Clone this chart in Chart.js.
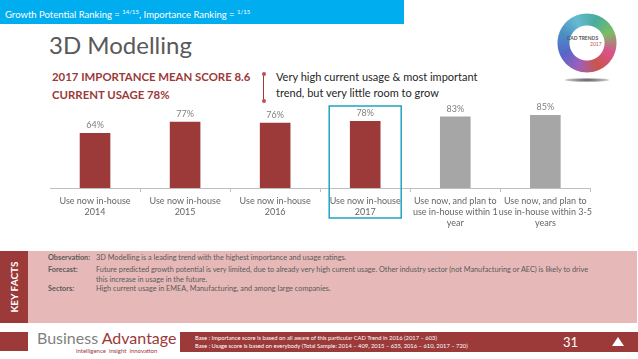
<!DOCTYPE html>
<html>
<head>
<meta charset="utf-8">
<script src="https://cdn.jsdelivr.net/npm/chart.js@4.4.1/dist/chart.umd.min.js"></script>
<style>
  html, body { margin: 0; padding: 0; }
  body { width: 638px; height: 359px; position: relative; overflow: hidden; background: #fff; font-family: Lato, "Open Sans", sans-serif; }
  .abs { position: absolute; }
  #topbar { left: 0; top: 0; width: 404px; height: 24px; background: #00adef; color: #fff; font-size: 9.5px; line-height: 24px; padding-left: 5px; box-sizing: border-box; white-space: nowrap; }
  #topbar sup { font-size: 6px; }
  #title { left: 49px; top: 30px; font-size: 24px; color: #595959; }
  .head { left: 52px; font-weight: bold; font-size: 11.4px; color: #9b3a39; white-space: nowrap; }
  .note { left: 276px; font-size: 11px; color: #262626; white-space: nowrap; }
  #conn { left: 263px; top: 74px; width: 1px; height: 27px; background: #9b3a39; }
  .dot { width: 4px; height: 4px; border-radius: 50%; background: #c0504d; left: 261.5px; }
  #chartbox { left: 50px; top: 100px; width: 546px; height: 130px; }
  #facts { left: 28px; top: 251px; width: 609px; height: 72px; background: #e6b9b8; }
  #factsside { left: 0; top: 251px; width: 28px; height: 72px; background: #9b3a39; }
  #factslabel { left: 14px; top: 287px; transform: translate(-50%, -50%) rotate(-90deg); color: #fff; font-weight: bold; font-size: 10px; white-space: nowrap; }
  .fl { left: 48px; font-size: 7.3px; font-weight: bold; color: #595959; }
  .ft { left: 96px; font-size: 7.3px; color: #595959; white-space: nowrap; }
  #footleft { left: 0; top: 332px; width: 28px; height: 19px; background: #9b3a39; }
  #footbar { left: 180px; top: 332px; width: 458px; height: 20px; background: #9b3a39; }
  .base { left: 195px; font-size: 5.8px; color: #fff; white-space: nowrap; }
  #page { left: 563px; top: 334px; font-size: 13px; color: #fff; }
  #tri { left: 612px; top: 337px; width: 0; height: 0; border-left: 6px solid transparent; border-right: 6px solid transparent; border-bottom: 9px solid #fff; }
  #brand { left: 37px; top: 328px; font-size: 16px; white-space: nowrap; }
  #tag { left: 76px; top: 347px; font-size: 6px; color: #9b3a39; white-space: nowrap; }
  #ring { left: 555px; top: 13px; width: 64px; height: 60px; border-radius: 50%;
    background: conic-gradient(from 20deg, #2a9d8f, #63b34a, #d4357a, #c0392b, #8e44ad, #3b4cc0, #2b7bb9, #4ab0c8, #2a9d8f);
    -webkit-mask: radial-gradient(circle, transparent 17px, #000 18px, #000 29px, transparent 30px);
    mask: radial-gradient(circle, transparent 17px, #000 18px, #000 29px, transparent 30px); opacity: 0.85; }
  #cadtxt { left: 567px; top: 35px; font-size: 5px; font-weight: bold; color: #555; white-space: nowrap; }
  #cadyr { left: 590px; top: 41px; font-size: 5px; color: #c0504d; }
  #shadow { left: 565px; top: 78px; width: 44px; height: 4px; border-radius: 50%; background: radial-gradient(ellipse, #555, rgba(255,255,255,0)); }
</style>
</head>
<body>
<div id="topbar" class="abs">Growth Potential Ranking = <sup>14/15</sup>, Importance Ranking = <sup>1/15</sup></div>
<div id="ring" class="abs"></div>
<div id="cadtxt" class="abs">CAD TRENDS</div>
<div id="cadyr" class="abs">2017</div>
<div id="shadow" class="abs"></div>
<div id="title" class="abs">3D Modelling</div>
<div class="abs head" style="top:70px">2017 IMPORTANCE MEAN SCORE 8.6</div>
<div class="abs head" style="top:88px">CURRENT USAGE 78%</div>
<div id="conn" class="abs"></div>
<div class="abs dot" style="top:72px"></div>
<div class="abs dot" style="top:99px"></div>
<div class="abs note" style="top:70px">Very high current usage &amp; most important</div>
<div class="abs note" style="top:86px">trend, but very little room to grow</div>
<div id="chartbox" class="abs"><canvas id="chart"></canvas></div>

<div id="factsside" class="abs"></div>
<div id="facts" class="abs"></div>
<div id="factslabel" class="abs">KEY FACTS</div>
<div class="abs fl" style="top:253px">Observation:</div>
<div class="abs ft" style="top:253px">3D Modelling is a leading trend with the highest importance and usage ratings.</div>
<div class="abs fl" style="top:265px">Forecast:</div>
<div class="abs ft" style="top:265px">Future predicted growth potential is very limited, due to already very high current usage. Other industry sector (not Manufacturing or AEC) is likely to drive</div>
<div class="abs ft" style="top:275px">this increase in usage in the future.</div>
<div class="abs fl" style="top:284px">Sectors:</div>
<div class="abs ft" style="top:284px">High current usage in EMEA, Manufacturing, and among large companies.</div>

<div id="footleft" class="abs"></div>
<div id="brand" class="abs"><span style="color:#7f7f7f">Business</span> <span style="color:#9b3a39">Advantage</span></div>
<div id="tag" class="abs">intelligence &nbsp;insight &nbsp;innovation</div>
<div id="footbar" class="abs"></div>
<div class="abs base" style="top:334px">Base : Importance score is based on all aware of this particular CAD Trend in 2016 (2017 – 603)</div>
<div class="abs base" style="top:342px">Base : Usage score is based on everybody (Total Sample: 2014 – 409, 2015 – 635, 2016 – 610, 2017 – 720)</div>
<div id="page" class="abs">31</div>
<div id="tri" class="abs"></div>

<script>
const categories = [
    ['Use now in-house', '2014'],
    ['Use now in-house', '2015'],
    ['Use now in-house', '2016'],
    ['Use now in-house', '2017'],
    ['Use now, and plan to', 'use in-house within 1', 'year'],
    ['Use now, and plan to', 'use in-house within 3-5', 'years'],
];
const usageValues = [64, 77, 76, 78, 83, 85];
const barColors = ['#9b3a39', '#9b3a39', '#9b3a39', '#9b3a39', '#a6a6a6', '#a6a6a6'];
const highlightIndex = 3;

const valueLabels = {
    id: 'valueLabels',
    afterDatasetsDraw(chart) {
        const ctx = chart.ctx;
        const meta = chart.getDatasetMeta(0);
        ctx.save();
        ctx.font = '9px Lato, sans-serif';
        ctx.fillStyle = '#7f7f7f';
        ctx.textAlign = 'center';
        ctx.textBaseline = 'middle';
        meta.data.forEach((bar, i) => {
            ctx.fillText(usageValues[i] + '%', bar.x, bar.y - 8);
        });
        ctx.restore();
    },
};

const highlightBox = {
    id: 'highlightBox',
    afterDraw(chart) {
        const ctx = chart.ctx;
        const x = chart.scales.x;
        const cx = x.getPixelForValue(highlightIndex);
        const area = chart.chartArea;
        ctx.save();
        ctx.strokeStyle = '#1fa3c4';
        ctx.lineWidth = 1.5;
        ctx.strokeRect(cx - 36, area.top + 4, 72, area.bottom - area.top + 26);
        ctx.restore();
    },
};

new Chart(document.getElementById('chart'), {
    type: 'bar',
    data: {
        labels: categories,
        datasets: [{
            data: usageValues,
            backgroundColor: barColors,
            barPercentage: 0.34,
            categoryPercentage: 1,
        }],
    },
    options: {
        responsive: true,
        maintainAspectRatio: false,
        animation: false,
        layout: { padding: { top: 2, left: 0, right: 0, bottom: 0 } },
        plugins: { legend: { display: false }, tooltip: { enabled: false } },
        scales: {
            x: {
                grid: { display: true, drawOnChartArea: false, offset: true, tickLength: 4, color: '#bfbfbf' },
                border: { display: true, color: '#bfbfbf' },
                ticks: { color: '#666666', font: { size: 9, family: 'Lato, sans-serif' }, maxRotation: 0, autoSkip: false, padding: 4 },
                afterFit(scale) { scale.height = 42; },
            },
            y: {
                display: false,
                min: 0,
                max: 100,
            },
        },
    },
    plugins: [valueLabels, highlightBox],
});
</script>
</body>
</html>
